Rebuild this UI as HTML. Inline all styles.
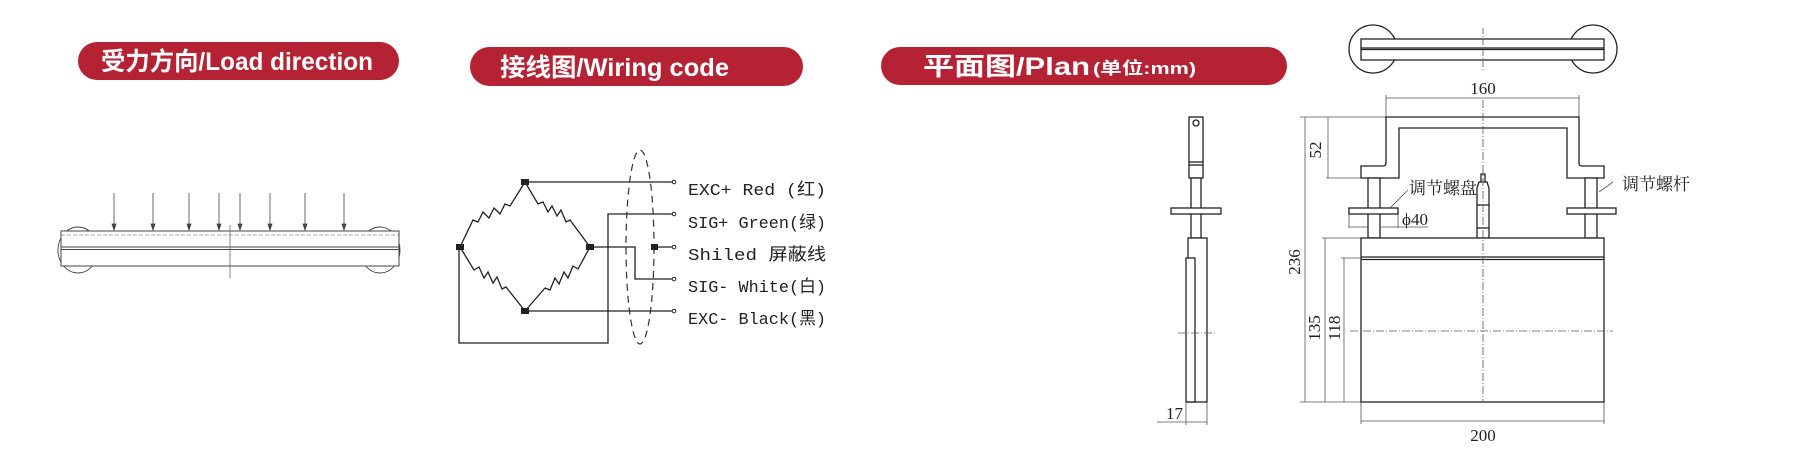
<!DOCTYPE html>
<html><head><meta charset="utf-8"><style>
html,body{margin:0;padding:0;background:#fff;width:1814px;height:454px;overflow:hidden}
svg{display:block}
.p{fill:#b42234}
.t{fill:#fff;font-family:"Liberation Sans","Noto Sans CJK SC",sans-serif;font-weight:bold}
.l{fill:none;stroke:#222;stroke-width:1.3}
.th{fill:none;stroke:#555;stroke-width:0.8}
.w{font-family:"Liberation Mono","Noto Sans CJK SC",monospace;font-size:17px;fill:#222}
.d{font-family:"Liberation Serif","Noto Serif CJK SC",serif;font-size:17px;fill:#222}
</style></head><body>
<svg width="1814" height="454" viewBox="0 0 1814 454" xmlns="http://www.w3.org/2000/svg">
<!-- pills -->
<rect class="p" x="78" y="42" width="321" height="38" rx="19"/>
<text class="t" x="101" y="70" font-size="25" textLength="272" lengthAdjust="spacingAndGlyphs">受力方向/Load direction</text>
<rect class="p" x="470" y="47" width="333" height="39" rx="19.5"/>
<text class="t" x="500" y="76" font-size="25" textLength="229" lengthAdjust="spacingAndGlyphs">接线图/Wiring code</text>
<path class="p" d="M900 47 H1268 A19 19 0 0 1 1268 85 H900 A19 19 0 0 1 900 47Z"/>
<text class="t" x="923" y="75" font-size="25" textLength="167" lengthAdjust="spacingAndGlyphs">平面图/Plan</text>
<text class="t" x="1093" y="74" font-size="17" textLength="103" lengthAdjust="spacingAndGlyphs">(单位:mm)</text>

<!-- load direction -->
<g>
<ellipse cx="78" cy="250" rx="20" ry="23" fill="#fff" stroke="#444" stroke-width="0.9"/>
<ellipse cx="380" cy="250" rx="20" ry="23" fill="#fff" stroke="#444" stroke-width="0.9"/>
<rect x="61" y="231" width="338" height="35" fill="#fff" stroke="#444" stroke-width="1"/>
<line x1="61" y1="235" x2="399" y2="235" stroke="#888" stroke-width="0.8" stroke-dasharray="4,2"/>
<line x1="61" y1="247" x2="399" y2="247" stroke="#444" stroke-width="1"/>
<line x1="61" y1="249.5" x2="399" y2="249.5" stroke="#444" stroke-width="1"/>
<line x1="230" y1="225" x2="230" y2="278" stroke="#666" stroke-width="0.8"/>
<g stroke="#444" stroke-width="0.8" fill="#444">
<line x1="114" y1="193" x2="114" y2="229"/><path d="M112 224 L114 230 L116 224Z"/>
<line x1="153" y1="193" x2="153" y2="229"/><path d="M151 224 L153 230 L155 224Z"/>
<line x1="189" y1="193" x2="189" y2="229"/><path d="M187 224 L189 230 L191 224Z"/>
<line x1="219" y1="193" x2="219" y2="229"/><path d="M217 224 L219 230 L221 224Z"/>
<line x1="240" y1="193" x2="240" y2="229"/><path d="M238 224 L240 230 L242 224Z"/>
<line x1="270" y1="193" x2="270" y2="229"/><path d="M268 224 L270 230 L272 224Z"/>
<line x1="305" y1="193" x2="305" y2="229"/><path d="M303 224 L305 230 L307 224Z"/>
<line x1="344" y1="193" x2="344" y2="229"/><path d="M342 224 L344 230 L346 224Z"/>
</g>
</g>

<!-- wiring -->
<g class="l">
<path d="M525 182 L510 206 L505 204 L500 214 L494 208 L489 218 L483 212 L478 222 L473 220 L460 247"/>
<path d="M525 182 L538 204 L543 202 L548 212 L552 206 L557 216 L561 210 L566 222 L570 220 L590 247"/>
<path d="M460 247 L474 270 L479 267 L484 278 L488 272 L493 283 L497 277 L502 289 L506 287 L525 311"/>
<path d="M590 247 L578 269 L573 266 L568 278 L564 272 L559 284 L555 278 L550 290 L545 288 L525 311"/>
<path d="M525 182 H674"/>
<path d="M674 214 H608 V343 H459 V247"/>
<path d="M590 247 H635 V279 H674"/>
<path d="M654 247 H674"/>
<path d="M525 311 H674"/>
</g>
<ellipse cx="640" cy="247" rx="14" ry="97" fill="none" stroke="#333" stroke-width="1.2" stroke-dasharray="7,5"/>
<g fill="#222">
<rect x="521" y="179" width="8" height="6"/><rect x="456" y="244" width="8" height="6"/>
<rect x="586" y="244" width="8" height="6"/><rect x="521" y="308" width="8" height="6"/>
<rect x="651" y="244" width="7" height="6"/>
</g>
<g fill="#fff" stroke="#222" stroke-width="1">
<circle cx="674" cy="182" r="1.8"/><circle cx="674" cy="214" r="1.8"/><circle cx="674" cy="247" r="1.8"/><circle cx="674" cy="279" r="1.8"/><circle cx="674" cy="311" r="1.8"/>
</g>
<text class="w" x="688" y="195" textLength="138" lengthAdjust="spacingAndGlyphs">EXC+ Red  (红)</text>
<text class="w" x="688" y="228" textLength="138" lengthAdjust="spacingAndGlyphs">SIG+ Green(绿)</text>
<text class="w" x="688" y="260" textLength="138" lengthAdjust="spacingAndGlyphs">Shiled  屏蔽线</text>
<text class="w" x="688" y="292" textLength="138" lengthAdjust="spacingAndGlyphs">SIG- White(白)</text>
<text class="w" x="688" y="324" textLength="138" lengthAdjust="spacingAndGlyphs">EXC- Black(黑)</text>

<!-- top view -->
<g class="l">
<circle cx="1373" cy="49" r="24" fill="#fff"/>
<circle cx="1593" cy="49" r="24" fill="#fff"/>
<rect x="1361" y="39" width="243" height="21" fill="#fff"/>
<line x1="1361" y1="48" x2="1604" y2="48"/><line x1="1361" y1="49.5" x2="1604" y2="49.5"/>
</g>
<line x1="1483" y1="28" x2="1483" y2="72" stroke="#555" stroke-width="0.8" stroke-dasharray="6,2,1,2"/>

<!-- front view -->
<g class="th">
<line x1="1386" y1="98" x2="1579" y2="98"/>
<line x1="1386" y1="95" x2="1386" y2="117"/><line x1="1579" y1="95" x2="1579" y2="117"/>
<line x1="1300" y1="117" x2="1386" y2="117"/>
<line x1="1305" y1="117" x2="1305" y2="402"/>
<line x1="1328" y1="117" x2="1328" y2="178"/><line x1="1326" y1="178" x2="1361" y2="178"/>
<line x1="1325" y1="238" x2="1325" y2="402"/><line x1="1322" y1="238" x2="1361" y2="238"/>
<line x1="1344" y1="258" x2="1344" y2="402"/><line x1="1341" y1="258" x2="1361" y2="258"/>
<line x1="1300" y1="402" x2="1361" y2="402"/>
<line x1="1361" y1="402" x2="1361" y2="424"/><line x1="1604" y1="402" x2="1604" y2="424"/>
<line x1="1361" y1="421" x2="1604" y2="421"/>
<line x1="1349" y1="214" x2="1349" y2="228"/><line x1="1398" y1="214" x2="1398" y2="228"/>
<line x1="1349" y1="227" x2="1428" y2="227"/>
<line x1="1408" y1="190" x2="1390" y2="208"/>
<line x1="1613" y1="182" x2="1599" y2="192"/>
</g>
<g class="l" fill="#fff">
<path d="M1386 117 H1579 V163 Q1579 166 1582 166 H1604 V178 H1567 V128 H1399 V178 H1361 V166 H1383 Q1386 166 1386 163Z" fill="#fff"/>
<rect x="1368" y="178" width="12" height="60" fill="#fff"/>
<rect x="1585" y="178" width="12" height="60" fill="#fff"/>
<rect x="1349" y="208" width="49" height="6" fill="#fff"/>
<rect x="1567" y="208" width="49" height="6" fill="#fff"/>
<rect x="1481" y="174" width="4" height="14" fill="#fff"/>
<path d="M1477 188 L1479 182 H1487 L1489 188 V238 H1477Z" fill="#fff"/>
<line x1="1477" y1="205" x2="1489" y2="205"/><line x1="1477" y1="228" x2="1489" y2="228"/>
<rect x="1361" y="238" width="243" height="164" fill="#fff"/>
<line x1="1361" y1="257" x2="1604" y2="257"/><line x1="1361" y1="259.5" x2="1604" y2="259.5"/>
</g>
<line x1="1483" y1="100" x2="1483" y2="402" stroke="#555" stroke-width="0.8" stroke-dasharray="8,2,1,2"/>
<line x1="1350" y1="331" x2="1613" y2="331" stroke="#555" stroke-width="0.8" stroke-dasharray="8,2,1,2"/>
<text class="d" x="1483" y="94" text-anchor="middle">160</text>
<text class="d" x="1483" y="441" text-anchor="middle">200</text>
<text class="d" transform="translate(1321,150) rotate(-90)" text-anchor="middle">52</text>
<text class="d" transform="translate(1300,262) rotate(-90)" text-anchor="middle">236</text>
<text class="d" transform="translate(1320,328) rotate(-90)" text-anchor="middle">135</text>
<text class="d" transform="translate(1340,328) rotate(-90)" text-anchor="middle">118</text>
<text class="d" x="1402" y="225" font-size="15">ϕ40</text>
<text class="d" x="1409" y="194" font-size="14">调节螺盘</text>
<text class="d" x="1622" y="190" font-size="14">调节螺杆</text>

<!-- side view -->
<g class="l" fill="#fff">
<rect x="1189" y="117" width="14" height="61" fill="#fff"/>
<circle cx="1196" cy="123" r="3"/>
<line x1="1189" y1="162" x2="1203" y2="162"/><line x1="1189" y1="165" x2="1203" y2="165"/>
<rect x="1191" y="178" width="10" height="60" fill="#fff"/>
<rect x="1171" y="208" width="50" height="6" fill="#fff"/>
<rect x="1188" y="238" width="19" height="164" fill="#fff"/>
<rect x="1186" y="258" width="9" height="144" fill="#fff"/>
</g>
<g class="th">
<line x1="1178" y1="333" x2="1217" y2="333" stroke-dasharray="8,2,1,2"/>
<line x1="1157" y1="422" x2="1207" y2="422"/>
<line x1="1186" y1="402" x2="1186" y2="425"/><line x1="1207" y1="402" x2="1207" y2="425"/>
</g>
<text class="d" x="1166" y="419">17</text>
</svg>
</body></html>
